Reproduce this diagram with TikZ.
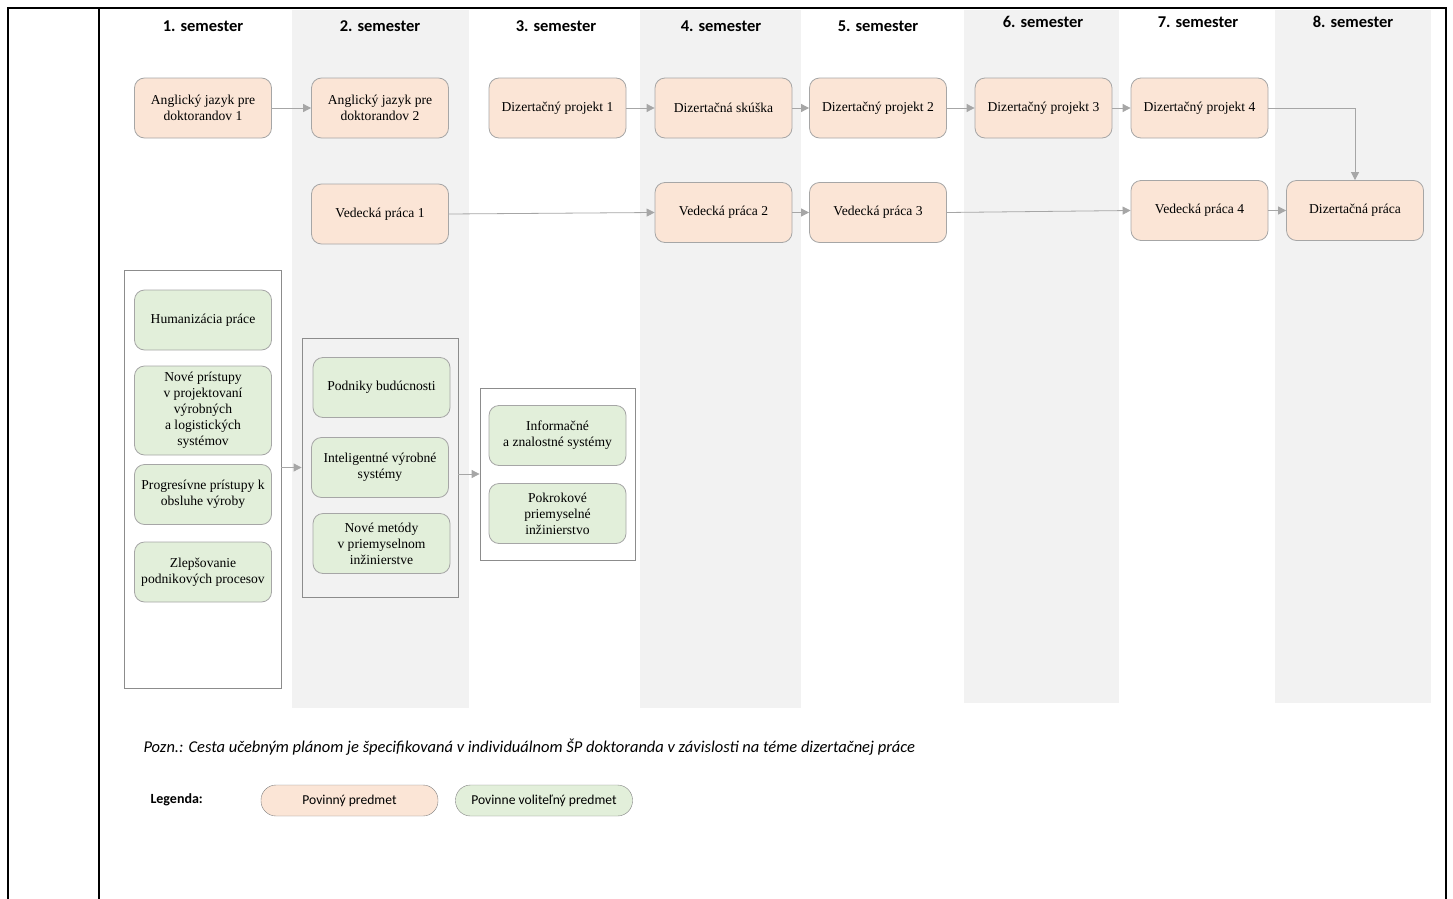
\documentclass[tikz,border=0pt]{standalone}
\usepackage{fontspec}
\setmainfont{Liberation Serif}
\newfontfamily\calibri{Carlito}
\usetikzlibrary{arrows.meta}
\usetikzlibrary{positioning}
\definecolor{peach}{HTML}{FBE5D6}
\definecolor{sage}{HTML}{E2EFDA}
\definecolor{colgray}{HTML}{F2F2F2}
\definecolor{linegray}{HTML}{A6A6A6}
\tikzset{
  >={Triangle[length=8pt,width=8pt]}, % small grey triangle heads
  subject/.style={draw=linegray,thick,rounded corners=10pt,minimum width=137pt,minimum height=60pt,
    align=center,inner sep=2pt,font=\fontsize{13.6}{16}\selectfont},
  subject req/.style={subject,fill=peach},
  subject opt/.style={subject,fill=sage},
  group/.style={draw=black!45,thick,inner sep=0pt},
  flow/.style={->,draw=linegray,thick},
  semester/.style={font=\calibri\bfseries\fontsize{16.5}{19}\selectfont},
  legend item/.style={draw=black!50,rounded corners=15pt,minimum width=177pt,minimum height=31pt,
    font=\calibri\fontsize{13.6}{16}\selectfont}
}

\begin{document}
\begin{tikzpicture}[x=1pt,y=-1pt]
    \useasboundingbox (0,0) rectangle (1453,899);

    % Shade the even semesters
    \fill[colgray] (292,10) rectangle (469,708);
    \fill[colgray] (640,10) rectangle (801,708);
    \fill[colgray] (964,10) rectangle (1119,703);
    \fill[colgray] (1275,10) rectangle (1431,703);

    % Table frame
    \draw[line width=2pt] (8,899) -- (8,8) -- (1446,8) -- (1446,899);
    \draw[line width=2pt] (99,8) -- (99,899);

    % Semester headings
    \node[semester] (s1) at (203,26) {1. semester};
    \node[semester] (s2) at (380,26) {2. semester};
    \node[semester] (s3) at (556,26) {3. semester};
    \node[semester] (s4) at (721,26) {4. semester};
    \node[semester] (s5) at (878,26) {5. semester};
    \node[semester] (s6) at (1043,22) {6. semester};
    \node[semester] (s7) at (1198,22) {7. semester};
    \node[semester] (s8) at (1353,22) {8. semester};

    % Compulsory subjects
    \node[subject req] (aj1) at (203,108) {Anglický jazyk pre\\doktorandov 1};
    \node[subject req] (aj2) at (380,108) {Anglický jazyk pre\\doktorandov 2};
    \node[subject req] (dp1) at (557.5,108) {Dizertačný projekt 1};
    \node[subject req] (dsk) at (723.5,108) {Dizertačná skúška};
    \node[subject req] (dp2) at (878,108) {Dizertačný projekt 2};
    \node[subject req] (dp3) at (1043.5,108) {Dizertačný projekt 3};
    \node[subject req] (dp4) at (1199.5,108) {Dizertačný projekt 4};

    \node[subject req] (vp1) at (380,214) {Vedecká práca 1};
    \node[subject req] (vp2) at (723.5,212.5) {Vedecká práca 2};
    \node[subject req] (vp3) at (878,212.5) {Vedecká práca 3};
    \node[subject req] (vp4) at (1199.5,210.5) {Vedecká práca 4};
    \node[subject req] (dzp) at (1355,210.5) {Dizertačná práca};

    % Elective groups
    \node[group,minimum width=157pt,minimum height=418pt] (g1) at (202.5,479) {};
    \node[group,minimum width=156pt,minimum height=259pt] (g2) at (380,467.5) {};
    \node[group,minimum width=155pt,minimum height=172pt] (g3) at (557.5,474) {};

    \node[subject opt] (hum) at (203,320) {Humanizácia práce};
    \node[subject opt,minimum height=89pt] (npp) at (203,410.5) {Nové prístupy\\v projektovaní\\výrobných\\a logistických\\systémov};
    \node[subject opt] (pro) at (203,494.5) {Progresívne prístupy k\\obsluhe výroby};
    \node[subject opt] (zle) at (203,572) {Zlepšovanie\\podnikových procesov};

    \node[subject opt] (pod) at (381.5,387.5) {Podniky budúcnosti};
    \node[subject opt] (ivs) at (380,467.5) {Inteligentné výrobné\\systémy};
    \node[subject opt] (nmp) at (381.5,543.5) {Nové metódy\\v priemyselnom\\inžinierstve};

    \node[subject opt] (izs) at (557.5,435.5) {Informačné\\a znalostné systémy};
    \node[subject opt] (ppi) at (557.5,513.5) {Pokrokové\\priemyselné\\inžinierstvo};

    % Connections
    \draw[flow] (aj1) -- (aj2);
    \draw[flow] (dp1) -- (dsk);
    \draw[flow] (dsk) -- (dp2);
    \draw[flow] (dp2) -- (dp3);
    \draw[flow] (dp3) -- (dp4);
    \draw[flow] (dp4.east) -| (dzp.north);
    \draw[flow] (vp1.east) -- (vp2.west);
    \draw[flow] (vp2) -- (vp3);
    \draw[flow] (vp3.east) -- (vp4.west);
    \draw[flow] (vp4) -- (dzp);
    \draw[flow] (g1.east |- g2.west) -- (g2.west);
    \draw[flow] (g2.east |- g3.west) -- (g3.west);

    % Note and legend
    \node[anchor=west,font=\calibri\itshape\fontsize{16.5}{19}\selectfont] (note) at (140,747)
      {Pozn.: Cesta učebným plánom je špecifikovaná v individuálnom ŠP doktoranda v závislosti na téme dizertačnej práce};
    \node[anchor=west,font=\calibri\bfseries\fontsize{14}{16}\selectfont] (leg) at (147,800) {Legenda:};
    \node[legend item,fill=peach] (lreq) at (349.5,800.5) {Povinný predmet};
    \node[legend item,fill=sage] (lopt) at (544,800.5) {Povinne voliteľný predmet};
\end{tikzpicture}
\end{document}
